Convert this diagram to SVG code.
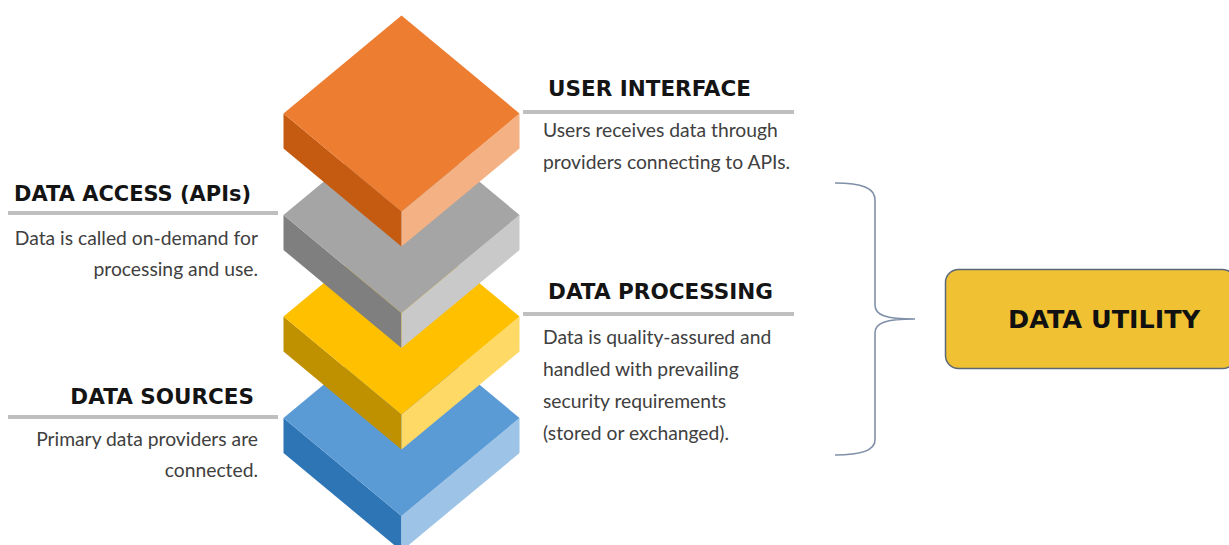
<svg xmlns="http://www.w3.org/2000/svg" xmlns:xlink="http://www.w3.org/1999/xlink" width="1229" height="545" viewBox="0 0 1229 545">
<style>
.hd{font-family:"DejaVu Sans","Liberation Sans",sans-serif;font-weight:bold;font-size:21.5px;fill:#141414}
.ds{font-family:Lato,"Open Sans",sans-serif;font-size:19.3px;fill:#404040}
.rule{stroke:#BFBFBF;stroke-width:4}
.brace{fill:none;stroke:#8090A8;stroke-width:1.6}
</style>
<defs>
<path id="top" d="M0,-98 L118,0 L0,98 L-118,0Z"/>
<path id="lft" d="M-118,0 L0,98 L0,133 L-118,35Z"/>
<path id="rgt" d="M118,0 L0,98 L0,133 L118,35Z"/>
</defs>
<rect width="1229" height="545" fill="#ffffff"/>

<g id="block-sources" transform="translate(401.5,418)">
<use xlink:href="#lft" fill="#2E75B6"/><use xlink:href="#rgt" fill="#9DC3E6"/><use xlink:href="#top" fill="#5B9BD5"/>
</g>
<g id="block-processing" transform="translate(401.5,316.5)">
<use xlink:href="#lft" fill="#BF9000"/><use xlink:href="#rgt" fill="#FFD966"/><use xlink:href="#top" fill="#FFC000"/>
</g>
<g id="block-access" transform="translate(401.5,215)">
<use xlink:href="#lft" fill="#7F7F7F"/><use xlink:href="#rgt" fill="#C9C9C9"/><use xlink:href="#top" fill="#A5A5A5"/>
</g>
<g id="block-ui" transform="translate(401.5,113.5)">
<use xlink:href="#lft" fill="#C55A11"/><use xlink:href="#rgt" fill="#F4B183"/><use xlink:href="#top" fill="#ED7D31"/>
</g>

<g id="label-ui">
<text class="hd" x="548" y="96" textLength="203" lengthAdjust="spacingAndGlyphs">USER INTERFACE</text>
<line class="rule" x1="523" y1="112" x2="794" y2="112"/>
<text class="ds" x="543" y="137">Users receives data through</text>
<text class="ds" x="543" y="169">providers connecting to APIs.</text>
</g>
<g id="label-access">
<text class="hd" x="14" y="201" textLength="237" lengthAdjust="spacingAndGlyphs">DATA ACCESS (APIs)</text>
<line class="rule" x1="8" y1="213" x2="278" y2="213"/>
<text class="ds" x="258" y="245" text-anchor="end">Data is called on-demand for</text>
<text class="ds" x="258" y="276" text-anchor="end">processing and use.</text>
</g>
<g id="label-processing">
<text class="hd" x="548" y="299" textLength="225" lengthAdjust="spacingAndGlyphs">DATA PROCESSING</text>
<line class="rule" x1="523" y1="314" x2="794" y2="314"/>
<text class="ds" x="543" y="344">Data is quality-assured and</text>
<text class="ds" x="543" y="376">handled with prevailing</text>
<text class="ds" x="543" y="408">security requirements</text>
<text class="ds" x="543" y="440">(stored or exchanged).</text>
</g>
<g id="label-sources">
<text class="hd" x="254" y="404" text-anchor="end">DATA SOURCES</text>
<line class="rule" x1="8" y1="417" x2="278" y2="417"/>
<text class="ds" x="258" y="446" text-anchor="end">Primary data providers are</text>
<text class="ds" x="258" y="477" text-anchor="end">connected.</text>
</g>

<g id="connectors">
<path class="brace" d="M835,183 C862,183 875,188 875,200 L875,305 C875,315 885,319 915,319 C885,319 875,323 875,333 L875,440 C875,450 862,455 835,455"/>
</g>

<g id="data-utility">
<rect x="945.5" y="269.5" width="290" height="99" rx="13" fill="#F0C233" stroke="#5A6878" stroke-width="1.5"/>
<text x="1008" y="328" font-family="DejaVu Sans, Liberation Sans, sans-serif" font-weight="bold" font-size="25.5" fill="#111111">DATA UTILITY</text>
</g>
</svg>
